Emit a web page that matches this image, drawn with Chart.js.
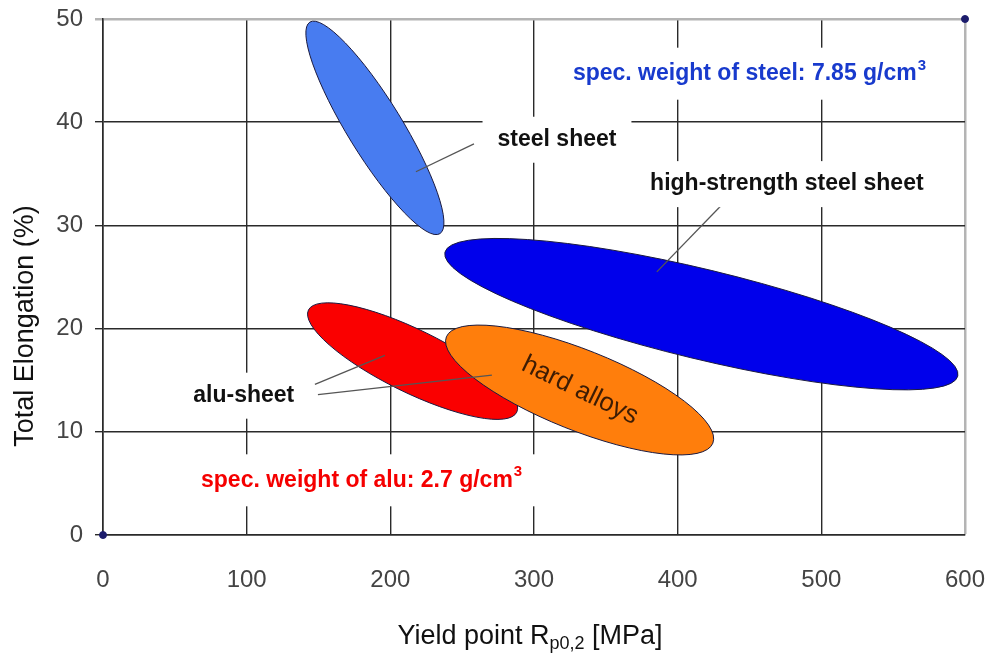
<!DOCTYPE html>
<html>
<head>
<meta charset="utf-8">
<script src="https://cdn.jsdelivr.net/npm/chart.js@4.4.1/dist/chart.umd.min.js"></script>
<style>
    html, body { margin: 0; padding: 0; background: #fff; }
    #wrap { width: 989px; height: 653px; }
</style>
</head>
<body>
<div id="wrap"><canvas id="chart"></canvas></div>
<script>
// material bands: tips of each band (x = yield point MPa, y = elongation %)
const bandNames  = ['steel sheet', 'high-strength steel sheet', 'alu-sheet', 'hard alloys'];
const bandStartX = [144, 238, 143, 239];
const bandStartY = [49.7, 27.4, 21.8, 19.2];
const bandEndX   = [234.5, 595, 288, 424.5];
const bandEndY   = [29.2, 15.4, 11.9, 8.9];
const bandSpread = [0.22, 0.17, 0.27, 0.28];

// leader lines from the labels to the bands
const leaderFromX = [217.8, 385.5, 147.5, 149.6];
const leaderFromY = [35.2, 25.5, 14.6, 13.6];
const leaderToX   = [258.2, 430.8, 196.2, 270.7];
const leaderToY   = [37.9, 32.0, 17.4, 15.5];

// corner markers
const cornerX = [0, 600];
const cornerY = [0, 50];

// axis ticks
const xTicks = [0, 100, 200, 300, 400, 500, 600];
const yTicks = [0, 10, 20, 30, 40, 50];

// annotation texts (anchored in data units)
const labelText = ['steel sheet', 'high-strength steel sheet', 'alu-sheet'];
const labelX = [316, 476, 98];
const labelY = [38.3, 34.0, 13.5];
const noteText = ['spec. weight of steel: 7.85 g/cm', 'spec. weight of alu: 2.7 g/cm'];
const noteX = [450, 180];
const noteY = [44.7, 5.3];
const inBandText = 'hard alloys';
const inBandX = 332;
const inBandY = 14.0;

const bandColors = ['rgb(72,124,240)', 'rgb(0,0,235)', 'rgb(250,0,0)', 'rgb(255,126,12)'];
const noteColors = ['rgb(24,58,205)', 'rgb(245,0,0)'];

const datasets = [];
bandNames.forEach((name, i) => {
    datasets.push({
        label: name,
        band: true,
        bandColor: bandColors[i],
        spread: bandSpread[i],
        data: [{x: bandStartX[i], y: bandStartY[i]}, {x: bandEndX[i], y: bandEndY[i]}],
        pointRadius: 0,
        showLine: false
    });
});
leaderFromX.forEach((x, i) => {
    datasets.push({
        label: 'leader' + i,
        data: [{x: x, y: leaderFromY[i]}, {x: leaderToX[i], y: leaderToY[i]}],
        showLine: true,
        borderColor: '#555',
        borderWidth: 1.3,
        pointRadius: 0
    });
});
datasets.push({
    label: 'corners',
    data: cornerX.map((x, i) => ({x: x, y: cornerY[i]})),
    pointRadius: 3.5,
    backgroundColor: '#1c1c6c',
    borderColor: '#1c1c6c',
    clip: false
});

const bandPlugin = {
    id: 'bands',
    beforeDatasetsDraw(chart) {
        const ctx = chart.ctx;
        chart.data.datasets.forEach((ds, i) => {
            if (!ds.band) return;
            const p = chart.getDatasetMeta(i).data;
            const x1 = p[0].x, y1 = p[0].y, x2 = p[1].x, y2 = p[1].y;
            const a = Math.hypot(x2 - x1, y2 - y1) / 2;
            ctx.save();
            ctx.beginPath();
            ctx.ellipse((x1 + x2) / 2, (y1 + y2) / 2, a, a * ds.spread,
                Math.atan2(y2 - y1, x2 - x1), 0, Math.PI * 2);
            ctx.fillStyle = ds.bandColor;
            ctx.fill();
            ctx.lineWidth = 1;
            ctx.strokeStyle = '#1a1a40';
            ctx.stroke();
            ctx.restore();
        });
    },
    afterDatasetsDraw(chart) {
        const ctx = chart.ctx;
        const xs = chart.scales.x, ys = chart.scales.y;
        ctx.save();
        ctx.textBaseline = 'middle';
        ctx.textAlign = 'left';

        // black labels with white boxes
        ctx.font = 'bold 23px "Liberation Sans", Arial, sans-serif';
        labelText.forEach((t, i) => {
            const w = ctx.measureText(t).width;
            const cx = xs.getPixelForValue(labelX[i]);
            const cy = ys.getPixelForValue(labelY[i]);
            ctx.fillStyle = '#fff';
            ctx.fillRect(cx - w / 2 - 15, cy - 23, w + 30, 46);
            ctx.fillStyle = '#111';
            ctx.fillText(t, cx - w / 2, cy);
        });

        // specific weight notes, with superscript 3
        noteText.forEach((t, i) => {
            ctx.font = 'bold 23px "Liberation Sans", Arial, sans-serif';
            const w1 = ctx.measureText(t).width;
            ctx.font = 'bold 15px "Liberation Sans", Arial, sans-serif';
            const w2 = ctx.measureText('3').width;
            const w = w1 + w2 + 1;
            const cx = xs.getPixelForValue(noteX[i]);
            const cy = ys.getPixelForValue(noteY[i]);
            ctx.fillStyle = '#fff';
            ctx.fillRect(cx - w / 2 - 17, cy - 26, w + 34, 52);
            ctx.fillStyle = noteColors[i];
            ctx.font = 'bold 23px "Liberation Sans", Arial, sans-serif';
            ctx.fillText(t, cx - w / 2, cy);
            ctx.font = 'bold 15px "Liberation Sans", Arial, sans-serif';
            ctx.fillText('3', cx - w / 2 + w1 + 1, cy - 8);
        });

        // text inside the hard alloys band
        ctx.translate(xs.getPixelForValue(inBandX), ys.getPixelForValue(inBandY));
        ctx.rotate(26 * Math.PI / 180);
        ctx.textAlign = 'center';
        ctx.font = '26px "Liberation Sans", Arial, sans-serif';
        ctx.fillStyle = '#3d1c04';
        ctx.fillText(inBandText, 0, 0);
        ctx.restore();
    },
    afterDraw(chart) {
        const ctx = chart.ctx;
        const area = chart.chartArea;
        ctx.save();
        ctx.fillStyle = '#111';
        ctx.textBaseline = 'alphabetic';

        // y title
        ctx.save();
        ctx.translate(33, area.top + 307);
        ctx.rotate(-Math.PI / 2);
        ctx.textAlign = 'center';
        ctx.font = '27px "Liberation Sans", Arial, sans-serif';
        ctx.fillText('Total Elongation (%)', 0, 0);
        ctx.restore();

        // x title with subscript
        const big = '27px "Liberation Sans", Arial, sans-serif';
        const small = '18px "Liberation Sans", Arial, sans-serif';
        ctx.font = big;
        const wA = ctx.measureText('Yield point R').width;
        const wC = ctx.measureText(' [MPa]').width;
        ctx.font = small;
        const wB = ctx.measureText('p0,2').width;
        let x = (area.left + area.right) / 2 - 4 - (wA + wB + wC) / 2;
        const y = 644;
        ctx.textAlign = 'left';
        ctx.font = big;
        ctx.fillText('Yield point R', x, y);
        x += wA;
        ctx.font = small;
        ctx.fillText('p0,2', x, y + 5);
        x += wB;
        ctx.font = big;
        ctx.fillText(' [MPa]', x, y);
        ctx.restore();
    }
};

const tickFont = {family: '"Liberation Sans", Arial, sans-serif', size: 24};

function noPad(s) {
    s.paddingLeft = 0;
    s.paddingRight = 0;
    s.paddingTop = 0;
    s.paddingBottom = 0;
}

const config = {
    type: 'scatter',
    data: {datasets: datasets},
    options: {
        responsive: false,
        animation: false,
        events: [],
        layout: {padding: {top: 19, right: 24, left: 0, bottom: 0}},
        plugins: {legend: {display: false}, tooltip: {enabled: false}},
        scales: {
            x: {
                type: 'linear',
                min: 0,
                max: 600,
                afterBuildTicks: (s) => { s.ticks = xTicks.map(v => ({value: v})); },
                afterFit: (s) => { s.height = 118; noPad(s); },
                grid: {
                    color: (c) => c.tick && c.tick.value === 600 ? '#b4b4b4' : '#2a2a2a',
                    lineWidth: (c) => c.tick && c.tick.value === 600 ? 2.5 : 1.4,
                    drawTicks: false
                },
                border: {color: '#2a2a2a', width: 1.6},
                ticks: {color: '#444', font: tickFont, padding: 31, maxRotation: 0}
            },
            y: {
                type: 'linear',
                min: 0,
                max: 50,
                afterBuildTicks: (s) => { s.ticks = yTicks.map(v => ({value: v})); },
                afterFit: (s) => { s.width = 103; noPad(s); },
                grid: {
                    color: (c) => c.tick && c.tick.value === 50 ? '#b4b4b4' : '#2a2a2a',
                    lineWidth: (c) => c.tick && c.tick.value === 50 ? 2.5 : 1.4,
                    tickLength: 8
                },
                border: {color: '#2a2a2a', width: 1.6},
                ticks: {color: '#444', font: tickFont, padding: 12}
            }
        }
    },
    plugins: [bandPlugin]
};

const canvas = document.getElementById('chart');
canvas.width = 989;
canvas.height = 653;
new Chart(canvas, config);
</script>
</body>
</html>
